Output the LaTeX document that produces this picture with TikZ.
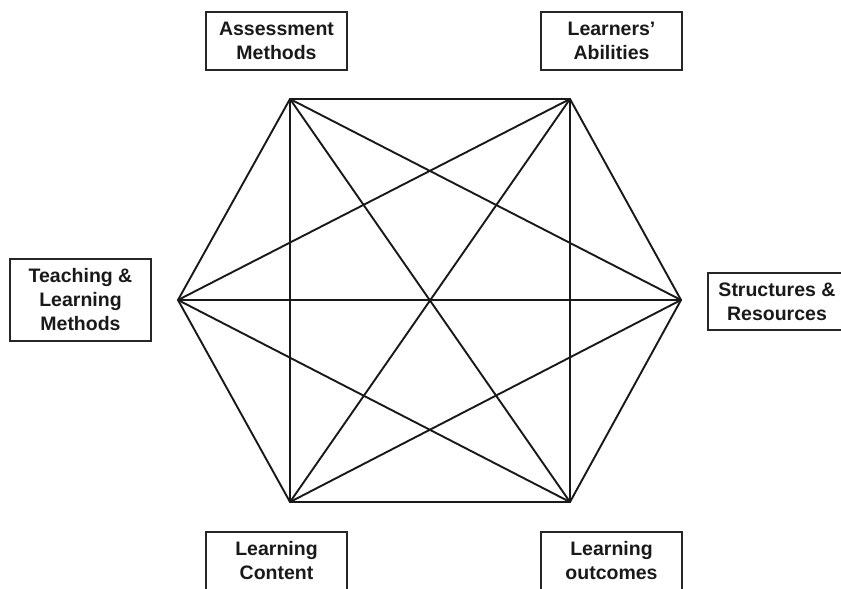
\documentclass[tikz,border=0pt]{standalone}
\usepackage{fontspec}
\setmainfont{Liberation Sans}
\begin{document}
\begin{tikzpicture}[x=1pt,y=-1pt,
  lbl/.style={draw=black!85, line width=1.8pt, rectangle, align=center, inner sep=0pt,
    text=black!90, font=\bfseries\fontsize{19.5}{24}\selectfont},
  edge/.style={line width=1.9pt, black!90, line join=round, line cap=round}]
\useasboundingbox[fill=white] (0,0) rectangle (841,589);
% boxes
\node[lbl, minimum width=141pt, minimum height=58pt] (am) at (276.5,41) {Assessment\\Methods};
\node[lbl, minimum width=141pt, minimum height=58pt] (la) at (611.5,41) {Learners'\\Abilities};
\node[lbl, minimum width=141pt, minimum height=82pt] (tl) at (80.5,300) {Teaching \&\\Learning\\Methods};
\node[lbl, minimum width=138pt, minimum height=57pt] (sr) at (777,301.5) {Structures \&\\Resources};
\node[lbl, minimum width=141pt, minimum height=58pt] (lc) at (276.5,561) {Learning\\Content};
\node[lbl, minimum width=141pt, minimum height=58pt] (lo) at (611.5,561) {Learning\\outcomes};
% hexagon vertices
\coordinate (v1) at (290,99);
\coordinate (v2) at (570,99);
\coordinate (v3) at (681,300);
\coordinate (v4) at (570,502);
\coordinate (v5) at (290,502);
\coordinate (v6) at (178,300);
\foreach \a/\b in {v1/v2,v1/v3,v1/v4,v1/v5,v1/v6,v2/v3,v2/v4,v2/v5,v2/v6,v3/v4,v3/v5,v3/v6,v4/v5,v4/v6,v5/v6}
  \draw[edge] (\a) -- (\b);
\end{tikzpicture}
\end{document}
